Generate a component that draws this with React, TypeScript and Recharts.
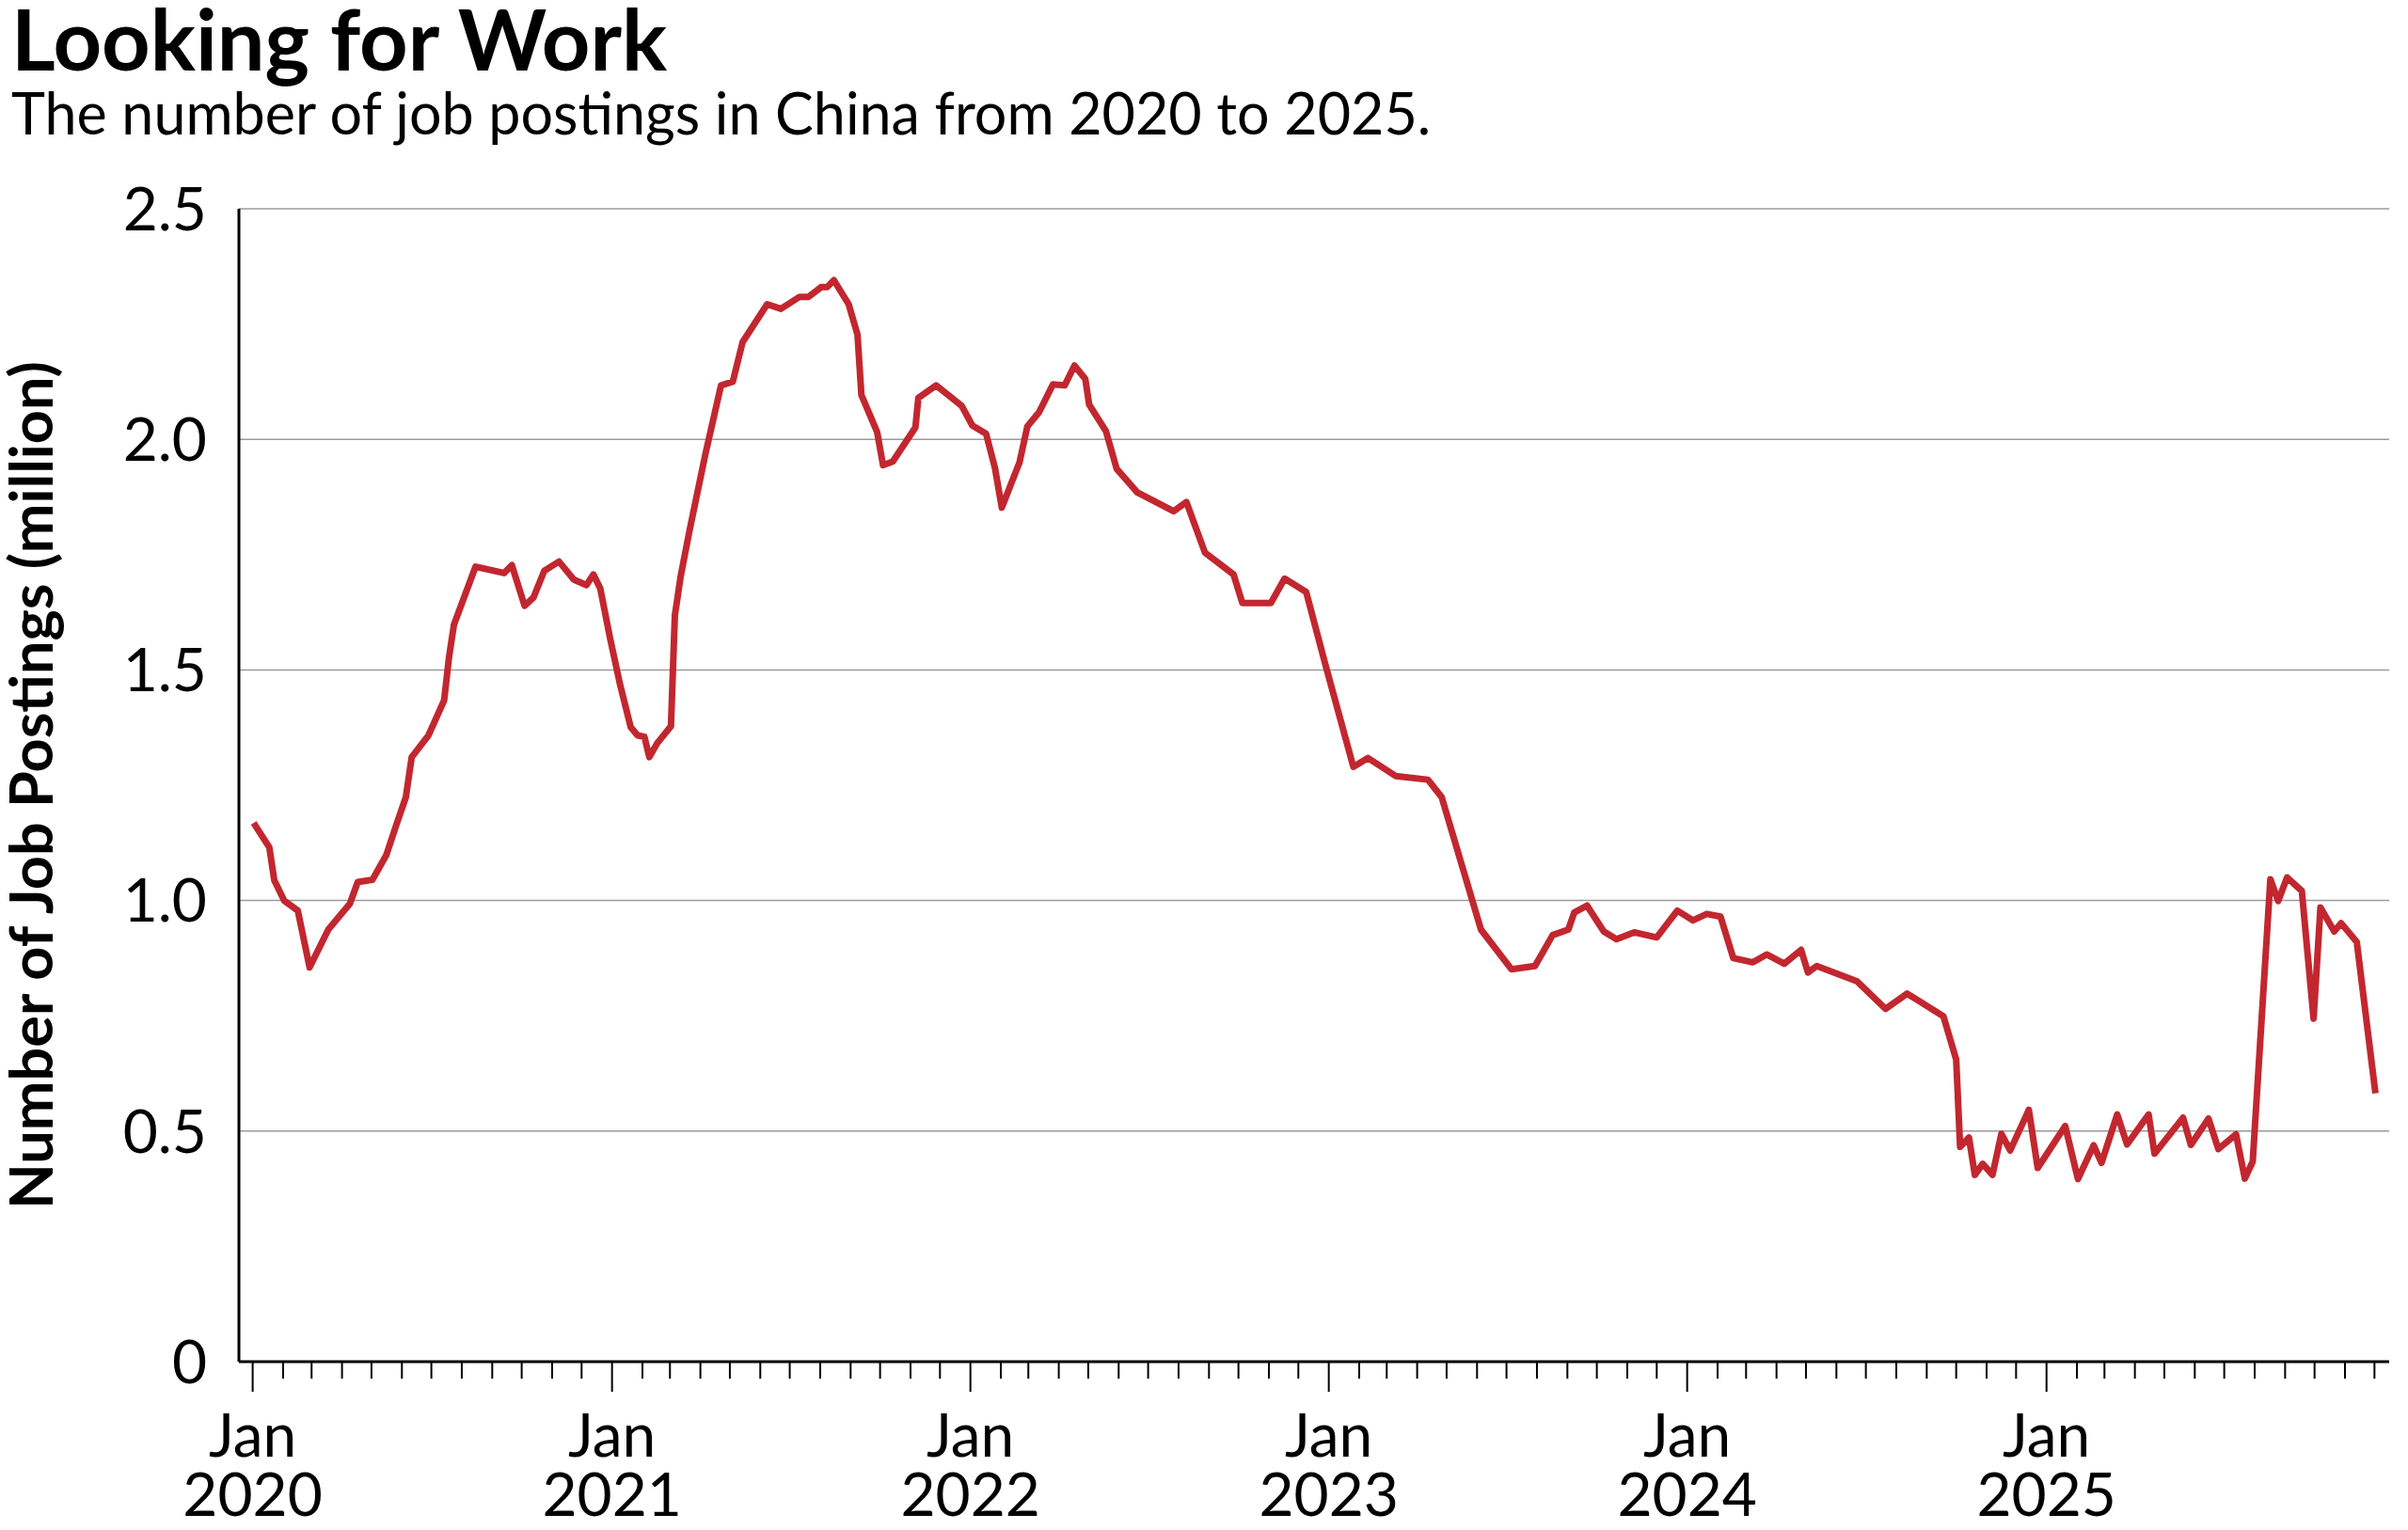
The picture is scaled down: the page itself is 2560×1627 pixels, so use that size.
import { CartesianGrid, Line, LineChart, XAxis, YAxis } from "recharts";

const FONT = "Lato, 'Open Sans', sans-serif";
const RED = "#C2272F";

// job postings (million), one list per year
const postings2020: [string, number][] = [
  ["2020-01-02", 1.168], ["2020-01-18", 1.115], ["2020-01-23", 1.044], ["2020-02-02", 1.0],
  ["2020-02-16", 0.978], ["2020-02-28", 0.855], ["2020-03-18", 0.937], ["2020-04-09", 0.993],
  ["2020-04-17", 1.04], ["2020-05-02", 1.045], ["2020-05-16", 1.098], ["2020-05-26", 1.162],
  ["2020-06-05", 1.224], ["2020-06-11", 1.311], ["2020-06-28", 1.358], ["2020-07-14", 1.434],
  ["2020-07-19", 1.528], ["2020-07-24", 1.598], ["2020-08-15", 1.724], ["2020-09-13", 1.71],
  ["2020-09-21", 1.727], ["2020-10-04", 1.639], ["2020-10-13", 1.657], ["2020-10-24", 1.715],
  ["2020-11-08", 1.735], ["2020-11-23", 1.696], ["2020-12-06", 1.684], ["2020-12-13", 1.707],
  ["2020-12-20", 1.677], ["2020-12-30", 1.569],
];

const postings2021: [string, number][] = [
  ["2021-01-09", 1.47], ["2021-01-20", 1.376], ["2021-01-27", 1.358], ["2021-02-03", 1.355],
  ["2021-02-08", 1.311], ["2021-02-16", 1.341], ["2021-03-02", 1.378], ["2021-03-06", 1.618],
  ["2021-03-12", 1.704], ["2021-03-21", 1.803], ["2021-04-06", 1.967], ["2021-04-22", 2.117],
  ["2021-05-04", 2.125], ["2021-05-14", 2.211], ["2021-06-08", 2.293], ["2021-06-22", 2.283],
  ["2021-07-11", 2.309], ["2021-07-20", 2.309], ["2021-08-02", 2.33], ["2021-08-08", 2.33],
  ["2021-08-15", 2.345], ["2021-08-30", 2.293], ["2021-09-08", 2.227], ["2021-09-12", 2.096],
  ["2021-09-28", 2.016], ["2021-10-04", 1.944], ["2021-10-14", 1.952], ["2021-11-06", 2.026],
  ["2021-11-09", 2.09], ["2021-11-27", 2.117], ["2021-12-23", 2.073],
];

const postings2022: [string, number][] = [
  ["2022-01-03", 2.03], ["2022-01-17", 2.012], ["2022-01-26", 1.938], ["2022-02-02", 1.852],
  ["2022-02-20", 1.95], ["2022-02-28", 2.028], ["2022-03-12", 2.059], ["2022-03-26", 2.119],
  ["2022-04-07", 2.117], ["2022-04-17", 2.16], ["2022-04-28", 2.131], ["2022-05-02", 2.075],
  ["2022-05-19", 2.018], ["2022-05-30", 1.936], ["2022-06-20", 1.885], ["2022-07-27", 1.844],
  ["2022-08-09", 1.864], ["2022-08-28", 1.754], ["2022-09-26", 1.707], ["2022-10-05", 1.645],
  ["2022-11-03", 1.645], ["2022-11-17", 1.698], ["2022-12-09", 1.669], ["2022-12-28", 1.516],
];

const postings2023: [string, number][] = [
  ["2023-01-26", 1.29], ["2023-02-10", 1.309], ["2023-03-10", 1.27], ["2023-04-12", 1.262],
  ["2023-04-26", 1.224], ["2023-06-05", 0.937], ["2023-07-06", 0.851], ["2023-07-30", 0.858],
  ["2023-08-17", 0.925], ["2023-09-02", 0.937], ["2023-09-08", 0.974], ["2023-09-21", 0.989],
  ["2023-10-08", 0.933], ["2023-10-21", 0.916], ["2023-11-08", 0.931], ["2023-12-01", 0.92],
  ["2023-12-22", 0.978],
];

const postings2024: [string, number][] = [
  ["2024-01-07", 0.957], ["2024-01-21", 0.971], ["2024-02-04", 0.965], ["2024-02-17", 0.875],
  ["2024-03-08", 0.866], ["2024-03-22", 0.883], ["2024-04-09", 0.863], ["2024-04-26", 0.893],
  ["2024-05-03", 0.844], ["2024-05-12", 0.858], ["2024-06-22", 0.825], ["2024-07-21", 0.765],
  ["2024-08-12", 0.798], ["2024-09-18", 0.749], ["2024-10-01", 0.655], ["2024-10-05", 0.466],
  ["2024-10-14", 0.486], ["2024-10-20", 0.405], ["2024-10-28", 0.429], ["2024-11-07", 0.405],
  ["2024-11-16", 0.494], ["2024-11-25", 0.458], ["2024-12-14", 0.546], ["2024-12-23", 0.42],
];

const postings2025: [string, number][] = [
  ["2025-01-20", 0.511], ["2025-02-02", 0.396], ["2025-02-18", 0.469], ["2025-02-26", 0.431],
  ["2025-03-14", 0.536], ["2025-03-24", 0.471], ["2025-04-15", 0.536], ["2025-04-21", 0.451],
  ["2025-05-20", 0.529], ["2025-05-28", 0.47], ["2025-06-15", 0.527], ["2025-06-25", 0.461],
  ["2025-07-13", 0.493], ["2025-07-22", 0.397], ["2025-07-30", 0.434], ["2025-08-17", 1.046],
  ["2025-08-25", 0.999], ["2025-09-03", 1.05], ["2025-09-18", 1.021], ["2025-09-30", 0.744],
  ["2025-10-07", 0.985], ["2025-10-21", 0.933], ["2025-10-28", 0.951], ["2025-11-13", 0.91],
  ["2025-12-02", 0.582],
];

const yTicks = [0, 0.5, 1, 1.5, 2, 2.5];
const years = [2020, 2021, 2022, 2023, 2024, 2025];

const data = [...postings2020, ...postings2021, ...postings2022, ...postings2023, ...postings2024, ...postings2025]
  .map(([d, v]) => ({ t: Date.parse(d + "T00:00:00Z"), v }));

const monthTicks: number[] = [];
years.forEach((y) => {
  for (let m = 0; m < 12; m++) monthTicks.push(Date.UTC(y, m, 1));
});

const xDomain = [Date.UTC(2019, 11, 18), Date.UTC(2025, 11, 16)];

function MonthTick(props: any) {
  const { x, y, payload } = props;
  const d = new Date(payload.value);
  const isJan = d.getUTCMonth() === 0;
  return (
    <g>
      <line x1={x} x2={x} y1={y} y2={y + (isJan ? 32 : 18)} stroke="#000" strokeWidth={2} />
      {isJan && (
        <text textAnchor="middle" fontSize={64} fontFamily={FONT} fill="#000">
          <tspan x={x} y={y + 101}>Jan</tspan>
          <tspan x={x} y={y + 164}>{d.getUTCFullYear()}</tspan>
        </text>
      )}
    </g>
  );
}

function YLabel(props: any) {
  const { viewBox } = props;
  const cy = viewBox.y + viewBox.height / 2;
  const x = 56;
  return (
    <text x={x} y={cy} transform={`rotate(-90 ${x} ${cy})`} textAnchor="middle"
      fontSize={63} fontWeight={700} fontFamily={FONT} fill="#000">
      Number of Job Postings (million)
    </text>
  );
}

export default function App() {
  return (
    <div style={{ position: "absolute", left: 0, top: 0, width: 2560, height: 1627, background: "#fff" }}>
      <svg width={2560} height={200} style={{ position: "absolute", left: 0, top: 0 }}>
        <text x={12} y={75} fontSize={90} fontWeight={700} fontFamily={FONT} fill="#000">Looking for Work</text>
        <text x={12} y={143} fontSize={61} fontFamily={FONT} fill="#000">The number of job postings in China from 2020 to 2025.</text>
      </svg>
      <LineChart width={2560} height={1627} data={data} margin={{ top: 222, right: 20, bottom: 0, left: 0 }}>
        <CartesianGrid vertical={false} stroke="#9a9a9a" strokeWidth={1.5} />
        <XAxis
          dataKey="t"
          type="number"
          scale="linear"
          domain={xDomain}
          ticks={monthTicks}
          interval={0}
          height={179}
          tickSize={0}
          tickMargin={0}
          tickLine={false}
          axisLine={{ stroke: "#000", strokeWidth: 3 }}
          tick={<MonthTick />}
          allowDataOverflow
        />
        <YAxis
          type="number"
          domain={[0, 2.5]}
          ticks={yTicks}
          width={254}
          tickSize={0}
          tickMargin={34}
          tickLine={false}
          axisLine={{ stroke: "#000", strokeWidth: 3 }}
          tickFormatter={(v: number) => (v === 0 ? "0" : v.toFixed(1))}
          tick={{ fontSize: 64, fill: "#000", fontFamily: FONT }}
          label={<YLabel />}
        />
        <Line dataKey="v" type="linear" stroke={RED} strokeWidth={7} dot={false} isAnimationActive={false} strokeLinejoin="round" />
      </LineChart>
    </div>
  );
}
